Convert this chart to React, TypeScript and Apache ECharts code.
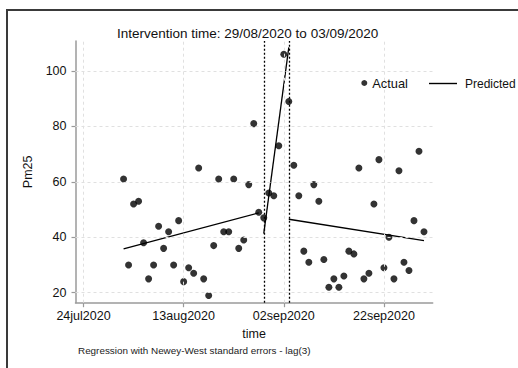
import React, { useEffect, useRef } from "react";
import * as echarts from "echarts";

// ---- data ----
const baseDate = "2020-07-24";
const firstActualDate = "2020-08-01";
const actualValues = [
  61, 30, 52, 53, 38, 25, 30, 44, 36, 42, 30, 46, 24, 29, 27, 65, 25, 19, 37, 61, 42, 42, 61, 36, 39, 59, 81, 49,
  47, 56, 55, 73, 106, 89,
  66, 55, 35, 31, 59, 53, 32, 22, 25, 22, 26, 35, 34, 65, 25, 27, 52, 68, 29, 40, 25, 64, 31, 28, 46, 71, 42,
];
const preDates = ["2020-08-01", "2020-08-28"];
const preValues = [35.8, 48.8];
const intDates = ["2020-08-29", "2020-09-03"];
const intValues = [41.3, 108.5];
const postDates = ["2020-09-03", "2020-09-30"];
const postValues = [46.5, 38.8];
const interventionDates = ["2020-08-29", "2020-09-03"];
const xTickDates = ["2020-07-24", "2020-08-13", "2020-09-02", "2020-09-22"];
const xTickLabels = ["24jul2020", "13aug2020", "02sep2020", "22sep2020"];
const yTicks = [20, 40, 60, 80, 100];

const DAY = 86400000;
const dayOf = (s: string) => (Date.parse(s) - Date.parse(baseDate)) / DAY;
const firstDay = dayOf(firstActualDate);

const FONT = "'Liberation Sans', Arial, Helvetica, sans-serif";

export default function App() {
  const ref = useRef<HTMLDivElement>(null);
  useEffect(() => {
    if (!ref.current) return;
    const chart = echarts.init(ref.current, undefined, { renderer: "svg" });
    const xTickDays = xTickDates.map(dayOf);
    const labelMap: Record<number, string> = {};
    xTickDays.forEach((d, i) => (labelMap[d] = xTickLabels[i]));

    const gridLineStyle = { color: "#e0e0e0", type: [3, 3] as any, width: 1 };
    const gridMarks = [
      ...xTickDays.map((d) => ({ xAxis: d, lineStyle: gridLineStyle })),
      ...yTicks.map((v) => ({ yAxis: v, lineStyle: gridLineStyle })),
    ];
    const interventionMarks = interventionDates.map((s) => ({
      xAxis: dayOf(s),
      lineStyle: { color: "#000", type: [2, 2] as any, width: 1.3 },
    }));

    const lineSeries = (dates: string[], values: number[], extra: any = {}) => ({
      name: "Predicted",
      type: "line",
      data: dates.map((d, i) => [dayOf(d), values[i]]),
      symbol: "none",
      lineStyle: { color: "#000", width: 1.3 },
      itemStyle: { color: "#000" },
      silent: true,
      ...extra,
    });

    chart.setOption({
      animation: false,
      textStyle: { fontFamily: FONT },
      title: [
        {
          text: "Intervention time: 29/08/2020 to 03/09/2020",
          left: 117,
          top: 25,
          padding: 0,
          textStyle: { fontFamily: FONT, fontSize: 13.5, fontWeight: "normal", color: "#111", lineHeight: 16 },
        },
        {
          text: "Regression with Newey-West standard errors - lag(3)",
          left: 78,
          top: 344,
          padding: 0,
          textStyle: { fontFamily: FONT, fontSize: 9.9, fontWeight: "normal", color: "#222", lineHeight: 12 },
        },
      ],
      legend: [
        {
          data: [{ name: "Actual", icon: "circle" }],
          left: 361.3,
          top: 76,
          padding: 0,
          itemWidth: 6,
          itemHeight: 6,
          selectedMode: false,
          textStyle: { fontFamily: FONT, fontSize: 12.8, color: "#111", lineHeight: 14 },
        },
        {
          data: [{ name: "Predicted", icon: "rect" }],
          left: 429,
          top: 76,
          padding: 0,
          itemWidth: 28,
          itemHeight: 1.4,
          selectedMode: false,
          textStyle: { fontFamily: FONT, fontSize: 12, color: "#111", lineHeight: 14, padding: [1, 0, 0, 3] },
        },
      ],
      graphic: [
        {
          type: "rect",
          shape: { x: 7, y: 10, width: 530, height: 362 },
          style: { fill: "none", stroke: "#3a3a3a", lineWidth: 2 },
          silent: true,
        },
      ],
      grid: { left: 75.5, right: 85.3, top: 41, bottom: 65.3, containLabel: false },
      xAxis: {
        type: "value",
        min: -1.6,
        max: 69.74,
        name: "time",
        nameLocation: "middle",
        nameGap: 25,
        nameTextStyle: { fontFamily: FONT, fontSize: 12.5, color: "#111" },
        axisLine: { show: true, onZero: false, lineStyle: { color: "#9a9a9a", width: 1.5 } },
        axisTick: { show: true, length: 4.5, customValues: xTickDays, lineStyle: { color: "#9a9a9a", width: 1.2 } },
        axisLabel: {
          customValues: xTickDays,
          margin: 7,
          fontFamily: FONT,
          fontSize: 12.5,
          color: "#111",
          formatter: (v: number) => labelMap[v] ?? "",
        },
        splitLine: { show: false },
      },
      yAxis: {
        type: "value",
        min: 16.4,
        max: 110.8,
        name: "Pm25",
        nameLocation: "middle",
        nameRotate: 90,
        nameGap: 40,
        nameTextStyle: { fontFamily: FONT, fontSize: 12.5, color: "#111" },
        axisLine: { show: true, onZero: false, lineStyle: { color: "#9a9a9a", width: 1.5 } },
        axisTick: { show: true, length: 4, customValues: yTicks, lineStyle: { color: "#9a9a9a", width: 1.2 } },
        axisLabel: {
          customValues: yTicks,
          margin: 9,
          fontFamily: FONT,
          fontSize: 12.5,
          color: "#111",
          formatter: (v: number) => String(v),
        },
        splitLine: { show: false },
      },
      series: [
        lineSeries(preDates, preValues, {
          markLine: { silent: true, symbol: "none", label: { show: false }, animation: false, data: gridMarks },
        }),
        lineSeries(intDates, intValues, {
          markLine: { silent: true, symbol: "none", label: { show: false }, animation: false, data: interventionMarks },
        }),
        lineSeries(postDates, postValues),
        {
          name: "Actual",
          type: "scatter",
          data: actualValues.map((v, i) => [firstDay + i, v]),
          symbol: "circle",
          symbolSize: 7,
          itemStyle: { color: "#000" },
          silent: true,
        },
      ],
    });
    return () => chart.dispose();
  }, []);
  return <div ref={ref} style={{ width: 518, height: 368, position: "absolute", left: 0, top: 0 }} />;
}
